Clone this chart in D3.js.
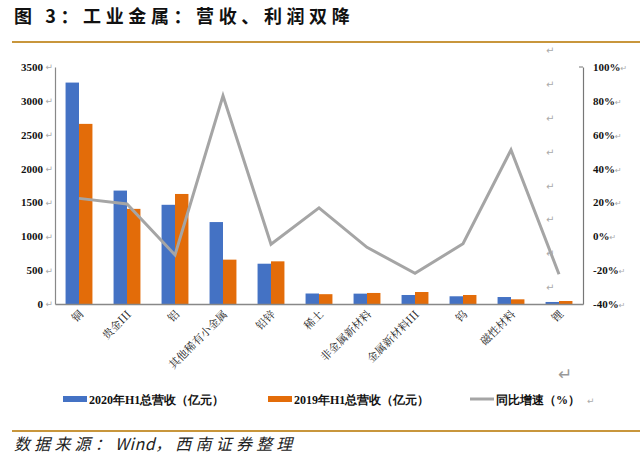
<!DOCTYPE html>
<html><head><meta charset="utf-8">
<script src="https://cdn.jsdelivr.net/npm/d3@7"></script>
<style>
html,body{margin:0;padding:0;background:#fff;}
svg{display:block;}
</style>
</head><body>
<svg id="c" width="640" height="462"></svg>
<script>
const categories = ["铜","贵金III","铝","其他稀有小金属","铅锌","稀土","非金属新材料","金属新材料III","钨","磁性材料","锂"];
const rev2020 = [3270,1675,1465,1210,595,155,153,133,114,103,30];
const rev2019 = [2660,1405,1625,655,630,145,163,177,133,69,44];
const yoy = [22.4,19.1,-11,83,-4.7,16.8,-6.5,-21.9,-4.4,51,-22.4];
const leftTicks = [0,500,1000,1500,2000,2500,3000,3500];
const rightTicks = [-40,-20,0,20,40,60,80,100];
const legendLabels = ["2020年H1总营收（亿元）","2019年H1总营收（亿元）","同比增速（%）"];
const titleText = "图 3：工业金属：营收、利润双降";
const sourceParts = ["数据来源：","Wind","，西南证券整理"];

const svg = d3.select("#c");
const L = 55, R = 583, T = 67, B = 304;
const gold = "#C8963C";
const blue = "#4472C4", orange = "#E36C09", gray = "#A5A5A5";
const serif = "'Liberation Serif','DejaVu Serif',serif";
const cjk = "'Noto Sans CJK SC','Noto Sans',sans-serif";
const arrowFont = "'DejaVu Sans'";

// title
svg.append("text").attr("x",14).attr("y",23).attr("font-family",cjk).attr("font-weight",600)
  .attr("font-size",18).attr("letter-spacing",4.6).attr("fill","#111").text(titleText);
svg.append("line").attr("x1",12).attr("x2",640).attr("y1",42).attr("y2",42).attr("stroke",gold).attr("stroke-width",2);
svg.append("line").attr("x1",12).attr("x2",640).attr("y1",431).attr("y2",431).attr("stroke",gold).attr("stroke-width",2);
const src = svg.append("text").attr("x",14).attr("y",450).attr("font-family",cjk).attr("font-style","italic")
  .attr("font-size",16).attr("fill","#222");
sourceParts.forEach((p,i)=>{
  src.append("tspan").attr("letter-spacing", i===1 ? 0.5 : 4.2).text(p);
});

const x = d3.scaleBand().domain(categories).range([L,R]).paddingInner(0.44).paddingOuter(0.22);
const xs = d3.scaleBand().domain(["a","b"]).range([0,x.bandwidth()]);
const y = d3.scaleLinear().domain([0,3500]).range([B,T]);
const y2 = d3.scaleLinear().domain([-40,100]).range([B,T]);
const cx = c => x(c) + x.bandwidth()/2;

// bars
const g = svg.append("g");
g.selectAll("rect.b").data(categories).join("rect").attr("class","b")
  .attr("x",c=>x(c)+xs("a")).attr("width",xs.bandwidth())
  .attr("y",(c,i)=>y(rev2020[i])).attr("height",(c,i)=>B-y(rev2020[i])).attr("fill",blue);
g.selectAll("rect.o").data(categories).join("rect").attr("class","o")
  .attr("x",c=>x(c)+xs("b")).attr("width",xs.bandwidth())
  .attr("y",(c,i)=>y(rev2019[i])).attr("height",(c,i)=>B-y(rev2019[i])).attr("fill",orange);

// axes
const la = svg.append("g").attr("transform",`translate(${L},0)`)
  .call(d3.axisLeft(y).tickValues(leftTicks).tickSize(0).tickPadding(12).tickFormat(d3.format("d")));
la.select(".domain").attr("stroke","#888").attr("stroke-width",1.2);
la.selectAll("text").attr("font-family",serif).attr("font-weight","bold").attr("font-size",11).attr("fill","#111");
la.selectAll(".tick").append("text").attr("x",-2).attr("dy","0.32em").attr("text-anchor","end")
  .attr("font-size",9).attr("fill","#aaa").attr("font-family",arrowFont).text("↵");

const ra = svg.append("g").attr("transform",`translate(${R},0)`)
  .call(d3.axisRight(y2).tickValues(rightTicks).tickSize(0).tickPadding(10).tickFormat(d=>d+"%"));
ra.select(".domain").attr("stroke","#777").attr("stroke-width",1.2);
ra.selectAll("text").attr("font-family",serif).attr("font-weight","bold").attr("font-size",11).attr("fill","#111");
ra.selectAll(".tick text").append("tspan").attr("font-size",8).attr("font-weight","normal")
  .attr("fill","#aaa").attr("font-family",arrowFont).text("↵");
svg.append("line").attr("x1",R-4).attr("x2",R).attr("y1",T).attr("y2",T).attr("stroke","#777");

const xa = svg.append("g").attr("transform",`translate(0,${B})`)
  .call(d3.axisBottom(x).tickSize(0).tickFormat(""));
xa.select(".domain").attr("stroke","#888").attr("stroke-width",1.5);
svg.selectAll("text.xl").data(categories).join("text").attr("class","xl")
  .attr("transform",c=>`translate(${cx(c)+5},${B+11}) rotate(-45)`)
  .attr("text-anchor","end").attr("font-family","'Noto Serif CJK SC','Noto Sans CJK SC',serif")
  .attr("font-size",11).attr("fill","#222").text(c=>c);

// line
const line = d3.line().x((d,i)=>cx(categories[i])).y(d=>y2(d));
svg.append("path").datum(yoy).attr("d",line).attr("fill","none").attr("stroke",gray)
  .attr("stroke-width",3).attr("stroke-linejoin","miter");

// stray return marks (column near right axis)
svg.selectAll("text.rm").data(rightTicks).join("text").attr("class","rm")
  .attr("x",546).attr("y",d=>y2(d) - (y2(80)-y2(100))/2 + 4).attr("font-size",10)
  .attr("fill","#aaa").attr("font-family",arrowFont).text("↵");
svg.append("text").attr("x",558).attr("y",380).attr("font-size",17).attr("fill","#999")
  .attr("font-family",arrowFont).text("↵");

// legend
const lg = svg.append("g");
const lx = [63,268,470];
const lcol = [blue,orange,gray];
legendLabels.forEach((t,i)=>{
  if(i<2) lg.append("rect").attr("x",lx[i]).attr("y",396).attr("width",24).attr("height",6).attr("fill",lcol[i]);
  else lg.append("line").attr("x1",lx[i]).attr("x2",lx[i]+24).attr("y1",399).attr("y2",399).attr("stroke",gray).attr("stroke-width",3);
  lg.append("text").attr("x",lx[i]+26).attr("y",404).attr("font-size",12).attr("font-weight","bold")
    .attr("font-family",serif).attr("fill","#111").text(t);
});
lg.append("text").attr("x",587).attr("y",404).attr("font-size",9).attr("fill","#aaa").attr("font-family",arrowFont).text("↵");
</script>
</body></html>
